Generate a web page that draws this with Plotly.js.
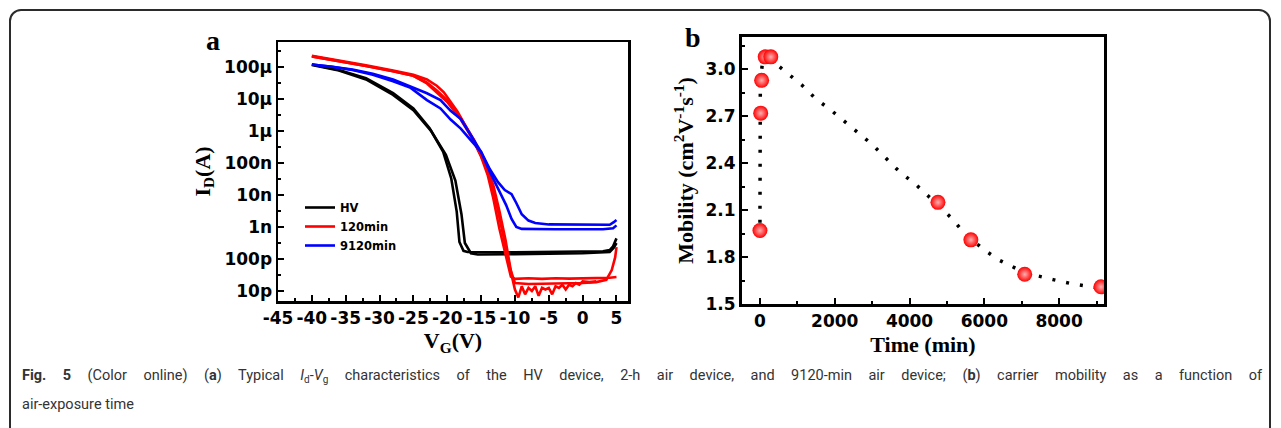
<!DOCTYPE html>
<html>
<head>
<meta charset="utf-8">
<script src="https://cdn.plot.ly/plotly-3.0.1.min.js"></script>
<style>
  html, body { margin: 0; padding: 0; background: #fff; }
  #frame { position: absolute; left: 9px; top: 9px; width: 1262px; height: 440px;
           border: 2px solid #2b2b2b; border-radius: 12px; box-sizing: border-box; }
  #chart { position: absolute; left: 0; top: 0; width: 1281px; height: 428px; }
  .cap { position: absolute; left: 22px; width: 1240px; white-space: nowrap;
         font-family: Roboto, "Open Sans", sans-serif; font-size: 14.5px; line-height: 20px;
         color: #333; }
  #cap1 { top: 366px; text-align: justify; text-align-last: justify; }
  #cap2 { top: 395px; text-align: left; }
  .cap sub { font-size: 10px; vertical-align: -3px; line-height: 0; }
</style>
</head>
<body>
<div id="frame"></div>
<div id="chart"></div>
<div id="cap1" class="cap"><b>Fig. 5</b> (Color online) (<b>a</b>) Typical <i>I</i><sub>d</sub>-<i>V</i><sub>g</sub> characteristics of the HV device, 2-h air device, and 9120-min air device; (<b>b</b>) carrier mobility as a function of</div>
<div id="cap2" class="cap">air-exposure time</div>
<script>
// ---------- Panel a : Id-Vg transfer curves (two sweeps each) ----------
const hvVgA   = [-40,-36,-32,-28,-25,-22.6,-20.6,-19.4,-18.6,-18.2,-17.6,-17,-10,-5,0,3,4,4.5,5];
const hvIdA   = [1.17e-4,7.9e-5,4.4e-5,1.5e-5,5.0e-6,1.2e-6,2.2e-7,3.2e-8,3.0e-9,3.4e-10,1.8e-10,1.66e-10,1.62e-10,1.66e-10,1.66e-10,1.74e-10,1.9e-10,2.5e-10,4.4e-10];
const hvVgB   = [-40,-36,-32,-28,-25,-22.4,-20.2,-18.8,-17.9,-17.4,-16.5,-15.5,-10,-5,0,4,4.6,5];
const hvIdB   = [1.12e-4,7.6e-5,4.0e-5,1.32e-5,4.4e-6,1.0e-6,1.78e-7,2.8e-8,2.5e-9,3.16e-10,1.51e-10,1.38e-10,1.41e-10,1.45e-10,1.51e-10,1.66e-10,2.24e-10,3.16e-10];

const m120VgA = [-40,-36,-32,-28,-25,-23,-21.5,-20.5,-18.5,-16.5,-15,-14,-13.2,-12.3,-11.3,-10.6,-10,-8,-6,-4,-2,0,2,4,5];
const m120IdA = [2.19e-4,1.58e-4,1.1e-4,7.6e-5,5.6e-5,4.0e-5,2.5e-5,1.58e-5,4.0e-6,7.1e-7,1.58e-7,4.0e-8,7.9e-9,8.9e-10,1.02e-10,2.8e-11,2.4e-11,2.5e-11,2.4e-11,2.5e-11,2.45e-11,2.5e-11,2.5e-11,2.6e-11,2.75e-11];
const m120VgB = [-40,-36,-32,-28,-25,-23,-21.5,-20,-18,-16,-14.5,-13.5,-12.6,-11.7,-10.7,-10,-8,-6,-4,-2,0,2,3.5,4.3,4.8,5];
const m120IdB = [2.1e-4,1.51e-4,1.05e-4,7.2e-5,5.2e-5,3.2e-5,1.78e-5,8.9e-6,2.5e-6,5.0e-7,1.0e-7,2.5e-8,4.0e-9,5.0e-10,5.0e-11,1.78e-11,1.66e-11,1.7e-11,1.74e-11,1.7e-11,1.78e-11,1.9e-11,2.24e-11,4.5e-11,1.12e-10,2.34e-10];
const m120VgC = [-40,-36,-32,-28,-25,-23,-21.5,-20,-18,-16,-14.3,-13.2,-12.3,-11.4,-10.5,-10,-9.5,-9,-8.5,-8,-7.5,-7,-6.5,-6,-5.5,-5,-4.5,-4,-3.5,-3,-2.5,-2,-1.5,-1,-0.5,0,1,2];
const m120IdC = [2.1e-4,1.51e-4,1.05e-4,7.2e-5,5.2e-5,3.0e-5,1.58e-5,7.9e-6,2.24e-6,4.5e-7,7.9e-8,2.0e-8,3.2e-9,4.0e-10,3.2e-11,1.12e-11,6.3e-12,1.41e-11,7.9e-12,1.26e-11,1.0e-11,1.41e-11,7.1e-12,1.26e-11,1.12e-11,1.26e-11,7.9e-12,1.41e-11,1.26e-11,1.58e-11,1.12e-11,1.58e-11,1.41e-11,1.78e-11,1.58e-11,2.0e-11,1.9e-11,2.0e-11];

const m9120VgA = [-40,-37,-34,-31,-28,-25.5,-23,-21,-19.5,-18,-16.5,-15,-13.7,-12.5,-11.5,-10.5,-9.8,-9,-8,-7,-5,-2,0,2,4,4.6,5];
const m9120IdA = [1.17e-4,1.0e-4,8.1e-5,6.0e-5,4.0e-5,2.5e-5,1.48e-5,9.1e-6,4.2e-6,2.34e-6,7.1e-7,2.2e-7,6.3e-8,2.5e-8,1.41e-8,1.05e-8,5.6e-9,2.5e-9,1.58e-9,1.32e-9,1.2e-9,1.17e-9,1.17e-9,1.17e-9,1.17e-9,1.41e-9,1.66e-9];
const m9120VgB = [-40,-37,-34,-31,-28,-25.5,-23,-21,-19.5,-18,-16.5,-15,-13.7,-12.5,-11.3,-10.5,-9.8,-9,-7,-4,0,3,4.5,5];
const m9120IdB = [1.17e-4,1.0e-4,7.9e-5,5.6e-5,3.5e-5,2.24e-5,9.1e-6,5.0e-6,2.24e-6,1.17e-6,5.0e-7,2.2e-7,5.2e-8,1.58e-8,4.8e-9,1.78e-9,1.0e-9,8.7e-10,8.5e-10,8.5e-10,8.5e-10,8.5e-10,9.1e-10,1.12e-9];

const seriesNames = ["HV", "120min", "9120min"];
const seriesColors = ["#000000", "#ff0000", "#0000ff"];

const idTickVals = [1e-11,1e-10,1e-9,1e-8,1e-7,1e-6,1e-5,1e-4];
const idTickText = ["10p","100p","1n","10n","100n","1\u03bc","10\u03bc","100\u03bc"];
const idMinorVals = [3.16e-12,3.16e-11,3.16e-10,3.16e-9,3.16e-8,3.16e-7,3.16e-6,3.16e-5,3.16e-4];
const vgTickVals = [-45,-40,-35,-30,-25,-20,-15,-10,-5,0,5];
const vgTickText = ["-45","-40","-35","-30","-25","-20","-15","-10","-5","0","5"];
const vgMinorVals = [-42.5,-37.5,-32.5,-27.5,-22.5,-17.5,-12.5,-7.5,-2.5,2.5];

// ---------- Panel b : mobility vs air-exposure time ----------
const timeMin   = [0, 20, 45, 140, 290, 4760, 5640, 7080, 9120];
const mobility  = [1.97, 2.72, 2.93, 3.08, 3.08, 2.15, 1.91, 1.69, 1.61];
const fitTime   = [0, 0, 10, 60, 150, 300, 700, 1120, 1500, 1870, 2500, 3000, 3740, 4140, 4500, 5120, 5440, 5970, 6400, 7080, 7840, 8330, 9120];
const fitMob    = [2.02, 2.6, 2.9, 3.03, 3.07, 3.06, 2.98, 2.90, 2.81, 2.745, 2.62, 2.52, 2.344, 2.27, 2.19, 2.05, 1.96, 1.85, 1.78, 1.70, 1.656, 1.63, 1.60];
const timeTicks = [0, 2000, 4000, 6000, 8000];
const timeMinor = [1000, 3000, 5000, 7000, 9000];
const mobTicks  = [1.5, 1.8, 2.1, 2.4, 2.7, 3.0];
const mobMinor  = [1.65, 1.95, 2.25, 2.55, 2.85, 3.15];

const W = 1281, H = 428;
const px = v => v / W;
const py = v => 1 - v / H;

function curve(x, y, i, show) {
  return { x: x, y: y, type: "scatter", mode: "lines", name: seriesNames[i],
           legendgroup: seriesNames[i], showlegend: show,
           line: { color: seriesColors[i], width: 2.6 }, xaxis: "x", yaxis: "y" };
}

const traces = [
  curve(hvVgA, hvIdA, 0, true), curve(hvVgB, hvIdB, 0, false),
  curve(m120VgA, m120IdA, 1, true), curve(m120VgB, m120IdB, 1, false), curve(m120VgC, m120IdC, 1, false),
  curve(m9120VgA, m9120IdA, 2, true), curve(m9120VgB, m9120IdB, 2, false),
  { x: fitTime, y: fitMob, type: "scatter", mode: "lines", showlegend: false,
    line: { color: "#000", width: 3.5, dash: "3px,11px" }, xaxis: "x2", yaxis: "y2" },
  { x: timeMin, y: mobility, type: "scatter", mode: "markers", showlegend: false,
    marker: { color: "#ff0000", size: 15, line: { width: 0 },
              gradient: { type: "radial", color: "#ffb0b0" } },
    xaxis: "x2", yaxis: "y2" }
];

const tickFont = { family: "DejaVu Sans", size: 17, color: "#000", weight: "bold" };
const titleFont = { family: "Liberation Serif", size: 22, color: "#000", weight: "bold" };
const baseAxis = { showgrid: false, zeroline: false, showline: true, linecolor: "#000",
                   linewidth: 2.5, mirror: true, ticks: "inside", ticklen: 6, tickwidth: 2,
                   tickcolor: "#000", tickfont: tickFont, tickmode: "array", tickangle: 0 };

const layout = {
  width: W, height: H, margin: { l: 0, r: 0, t: 0, b: 0 },
  paper_bgcolor: "rgba(0,0,0,0)", plot_bgcolor: "#fff",
  showlegend: true,
  legend: { x: px(300), y: py(193), xanchor: "left", yanchor: "top",
            bgcolor: "rgba(0,0,0,0)", tracegroupgap: 0,
            font: { family: "DejaVu Sans", size: 11.5, color: "#000", weight: "bold" } },
  xaxis: Object.assign({}, baseAxis, {
    domain: [px(278), px(628)], anchor: "y", range: [-45, 6.7],
    tickvals: vgTickVals, ticktext: vgTickText,
    minor: { tickvals: vgMinorVals, ticks: "inside", ticklen: 3, tickwidth: 2, tickcolor: "#000" },
    title: { text: "V<sub>G</sub>(V)", font: titleFont, standoff: 6 } }),
  yaxis: Object.assign({}, baseAxis, {
    domain: [py(301), py(42)], anchor: "x", type: "log", range: [-11.31, -3.23],
    tickvals: idTickVals, ticktext: idTickText,
    minor: { tickvals: idMinorVals, ticks: "inside", ticklen: 3, tickwidth: 2, tickcolor: "#000" },
    title: { text: "I<sub>D</sub>(A)", font: titleFont, standoff: 8 } }),
  xaxis2: Object.assign({}, baseAxis, {
    domain: [px(742), px(1104)], anchor: "y2", range: [-480, 9200], linewidth: 3,
    tickvals: timeTicks,
    minor: { tickvals: timeMinor, ticks: "inside", ticklen: 3, tickwidth: 2, tickcolor: "#000" },
    title: { text: "Time (min)", font: titleFont, standoff: 7 } }),
  yaxis2: Object.assign({}, baseAxis, {
    domain: [py(304), py(37)], anchor: "x2", range: [1.5, 3.207], linewidth: 3,
    tickvals: mobTicks, tickformat: ".1f",
    minor: { tickvals: mobMinor, ticks: "inside", ticklen: 3, tickwidth: 2, tickcolor: "#000" },
    title: { text: "Mobility (cm<sup>2</sup>V<sup>-1</sup>s<sup>-1</sup>)",
             font: { family: "Liberation Serif", size: 22, color: "#000", weight: "bold" }, standoff: 6 } }),
  annotations: [
    { text: "a", xref: "paper", yref: "paper", x: px(213), y: py(40), xanchor: "center", yanchor: "middle",
      showarrow: false, font: { family: "Liberation Serif", size: 28, color: "#000", weight: "bold" } },
    { text: "b", xref: "paper", yref: "paper", x: px(693), y: py(38), xanchor: "center", yanchor: "middle",
      showarrow: false, font: { family: "Liberation Serif", size: 28, color: "#000", weight: "bold" } }
  ]
};

Plotly.newPlot("chart", traces, layout, { displayModeBar: false, staticPlot: true });
</script>
</body>
</html>
